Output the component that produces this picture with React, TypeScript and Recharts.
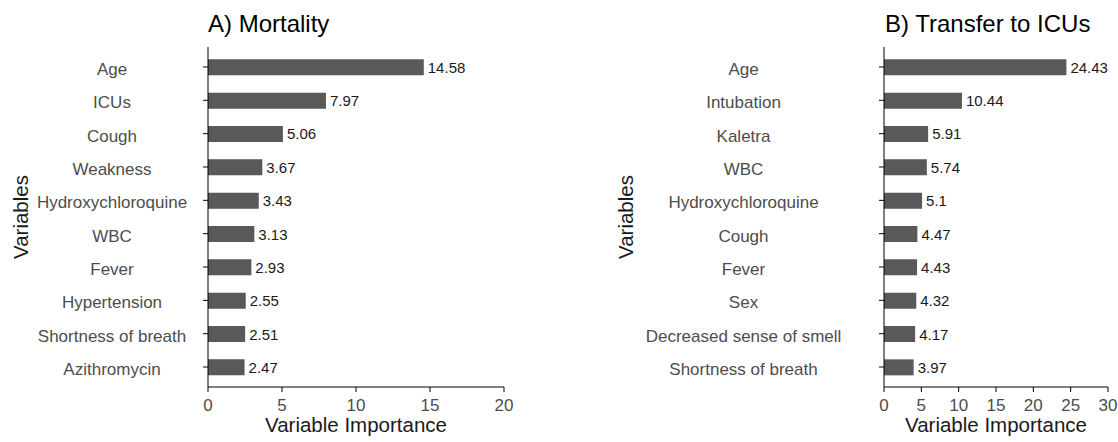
import React from "react";
import { BarChart, Bar, XAxis, YAxis, LabelList } from "recharts";

const mortalityVars = [
  "Age",
  "ICUs",
  "Cough",
  "Weakness",
  "Hydroxychloroquine",
  "WBC",
  "Fever",
  "Hypertension",
  "Shortness of breath",
  "Azithromycin",
];
const mortalityValues = [14.58, 7.97, 5.06, 3.67, 3.43, 3.13, 2.93, 2.55, 2.51, 2.47];
const mortalityTicks = [0, 5, 10, 15, 20];

const transferVars = [
  "Age",
  "Intubation",
  "Kaletra",
  "WBC",
  "Hydroxychloroquine",
  "Cough",
  "Fever",
  "Sex",
  "Decreased sense of smell",
  "Shortness of breath",
];
const transferValues = [24.43, 10.44, 5.91, 5.74, 5.1, 4.47, 4.43, 4.32, 4.17, 3.97];
const transferTicks = [0, 5, 10, 15, 20, 25, 30];

const FONT = "'Liberation Sans', Arial, sans-serif";
const BAR_COLOR = "#595959";
const TICK_COLOR = "#4d4d4d";

type PanelProps = {
  names: string[];
  values: number[];
  ticks: number[];
  width: number;
  yAxisWidth: number;
  rightMargin: number;
  labelCenter: number;
  varTitleX: number;
};

function Panel({ names, values, ticks, width, yAxisWidth, rightMargin, labelCenter, varTitleX }: PanelProps) {
  const data = names.map((name, i) => ({ name, value: values[i] }));

  const renderYTick = (props: any) => (
    <text
      x={labelCenter}
      y={props.y + 8}
      textAnchor="middle"
      fontSize={17}
      fill={TICK_COLOR}
      fontFamily={FONT}
    >
      {props.payload.value}
    </text>
  );

  const renderValue = (props: any) => {
    const { x, y, width: w, height: h, value } = props;
    return (
      <text
        x={Number(x) + Number(w) + 4}
        y={Number(y) + Number(h) / 2 + 5.5}
        fontSize={15}
        fill="#1a1a1a"
        fontFamily={FONT}
      >
        {value}
      </text>
    );
  };

  return (
    <BarChart
      width={width}
      height={442}
      data={data}
      layout="vertical"
      margin={{ top: 47, right: rightMargin, bottom: 0, left: 0 }}
      barCategoryGap={0}
    >
      <XAxis
        type="number"
        domain={[ticks[0], ticks[ticks.length - 1]]}
        ticks={ticks}
        height={55}
        tickSize={5}
        tickMargin={7}
        stroke="#000"
        tick={{ fill: TICK_COLOR, fontSize: 17, fontFamily: FONT }}
        label={{
          content: (p: any) => {
            const vb = p.viewBox;
            return (
              <text
                x={vb.x + vb.width / 2}
                y={vb.y + 45}
                textAnchor="middle"
                fontSize={20.5}
                fill="#1a1a1a"
                fontFamily={FONT}
              >
                Variable Importance
              </text>
            );
          },
        }}
      />
      <YAxis
        type="category"
        dataKey="name"
        width={yAxisWidth}
        tickSize={5}
        stroke="#000"
        padding={{ top: 3.3, bottom: 3.3 }}
        interval={0}
        tick={renderYTick}
        label={{
          content: () => (
            <text
              x={varTitleX}
              y={217}
              transform={`rotate(-90 ${varTitleX} 217)`}
              textAnchor="middle"
              fontSize={20.5}
              fill="#1a1a1a"
              fontFamily={FONT}
            >
              Variables
            </text>
          ),
        }}
      />
      <Bar dataKey="value" fill={BAR_COLOR} barSize={16} isAnimationActive={false}>
        <LabelList dataKey="value" content={renderValue} />
      </Bar>
    </BarChart>
  );
}

export default function App() {
  return (
    <div
      style={{
        position: "absolute",
        left: 0,
        top: 0,
        width: 1118,
        height: 442,
        background: "#fff",
        fontFamily: FONT,
      }}
    >
      <div style={{ position: "absolute", left: 0, top: 0 }}>
        <Panel
          names={mortalityVars}
          values={mortalityValues}
          ticks={mortalityTicks}
          width={560}
          yAxisWidth={208}
          rightMargin={56}
          labelCenter={112}
          varTitleX={28}
        />
      </div>
      <div style={{ position: "absolute", left: 560, top: 0 }}>
        <Panel
          names={transferVars}
          values={transferValues}
          ticks={transferTicks}
          width={558}
          yAxisWidth={324}
          rightMargin={10}
          labelCenter={183.5}
          varTitleX={73}
        />
      </div>
      <svg
        width={1118}
        height={442}
        style={{ position: "absolute", left: 0, top: 0, pointerEvents: "none" }}
      >
        <text x={208} y={32} fontSize={24} fill="#000" fontFamily={FONT}>
          A) Mortality
        </text>
        <text x={885} y={32} fontSize={24} fill="#000" fontFamily={FONT}>
          B) Transfer to ICUs
        </text>
      </svg>
    </div>
  );
}
